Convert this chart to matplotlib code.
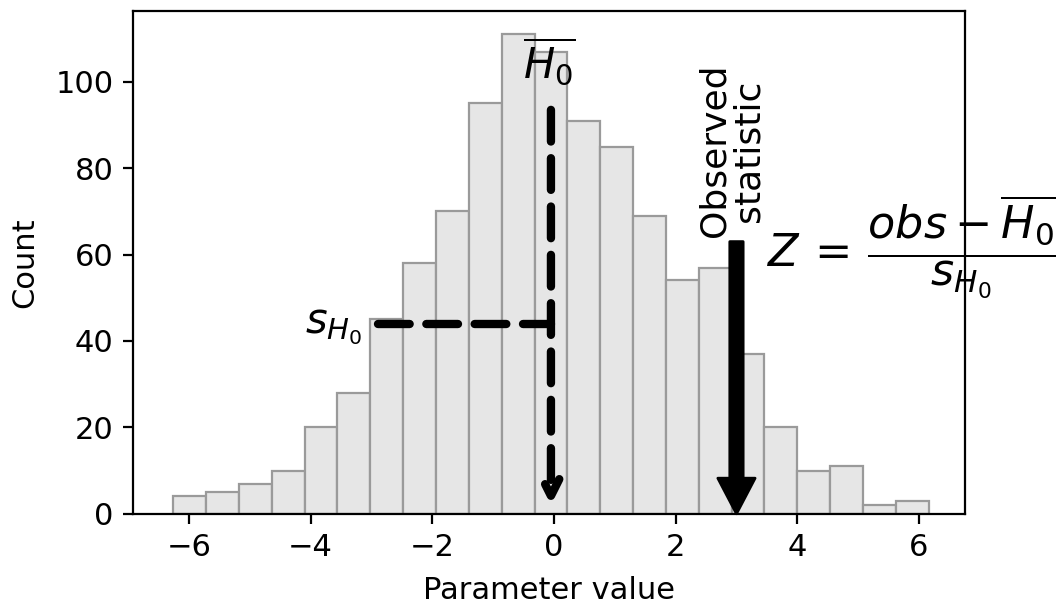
import numpy as np
import matplotlib
matplotlib.use("Agg")
import matplotlib.pyplot as plt

# ---- data ----
counts = [4, 5, 7, 10, 20, 28, 45, 58, 70, 95, 111, 107, 91, 85, 69, 54, 57, 37, 20, 10, 11, 2, 3]
bin_start = -6.26
bin_width = 0.54
h0_mean = -0.05        # mean of the null distribution
sd_left = -2.9         # left end of the s_H0 bracket
sd_level = 44          # height of the s_H0 bracket
observed = 3.0         # observed statistic
x_label = "Parameter value"
y_label = "Count"

edges = bin_start + bin_width * np.arange(len(counts) + 1)

plt.rcParams["font.size"] = 11

fig = plt.figure(figsize=(5.28, 3.04), dpi=200)
ax = fig.add_axes([0.126, 0.155, 0.788, 0.827])

ax.bar(edges[:-1], counts, width=np.diff(edges), align="edge",
       facecolor="#e6e6e6", edgecolor="#9a9a9a", linewidth=0.8)

ax.set_xlim(-6.92, 6.76)
ax.set_ylim(0, 116.4)
ax.set_xlabel(x_label, labelpad=5)
ax.set_ylabel(y_label, labelpad=6)

dash = (0, (3.8, 2.0))

# vertical dashed arrow at the null mean
ax.annotate("", xy=(h0_mean, 2), xytext=(h0_mean, 93.5),
            arrowprops=dict(arrowstyle="->", lw=3, linestyle=dash, color="black",
                            shrinkA=0, shrinkB=0, mutation_scale=15,
                            capstyle="round"))
ax.text(h0_mean - 0.03, 104.5, r"$\overline{H_0}$", fontsize=15,
        ha="center", va="center")

# horizontal dashed s_H0 bracket
ax.plot([sd_left, h0_mean], [sd_level, sd_level], linestyle=dash, lw=3,
        color="black", dash_capstyle="round", solid_capstyle="round")
ax.text(sd_left - 0.26, sd_level - 0.6, r"$s_{H_0}$", fontsize=15,
        ha="right", va="center")

# observed statistic arrow
ax.annotate("", xy=(observed, 0), xytext=(observed, 63),
            arrowprops=dict(facecolor="black", edgecolor="black", width=4.8,
                            headwidth=13.4, headlength=12.8, shrink=0))
ax.text(observed - 0.08, 64, "Observed\nstatistic", rotation=90, fontsize=13,
        ha="center", va="bottom", linespacing=1.0, multialignment="center")

ax.text(3.5, 61.8, r"$Z\,=\,\dfrac{obs - \overline{H_0}}{s_{H_0}}$", fontsize=16,
        ha="left", va="center", clip_on=False)

fig.savefig("out.png", dpi=200)
